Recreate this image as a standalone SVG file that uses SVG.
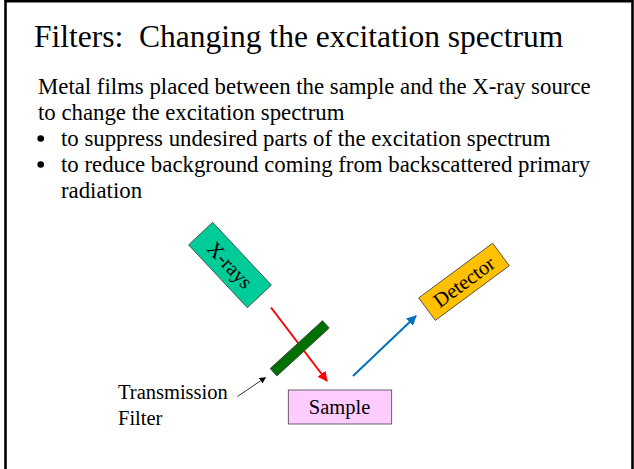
<svg xmlns="http://www.w3.org/2000/svg" width="634" height="469" viewBox="0 0 634 469">
  <style>
    .serif { font-family: "Liberation Serif", "Times New Roman", serif; fill: #000; }
    .title { font-size: 31.5px; white-space: pre; }
    .body { font-size: 22.8px; }
    .label { font-size: 20.5px; }
    .box { stroke: #404040; stroke-width: 0.8; }
  </style>
  <defs>
    <marker id="headRed" viewBox="0 0 10 10" refX="9" refY="5" markerWidth="5" markerHeight="5" orient="auto" markerUnits="strokeWidth">
      <path d="M0,0 L10,5 L0,10 z" fill="#FF0000"/>
    </marker>
    <marker id="headBlue" viewBox="0 0 10 10" refX="9" refY="5" markerWidth="5" markerHeight="5" orient="auto" markerUnits="strokeWidth">
      <path d="M0,0 L10,5 L0,10 z" fill="#0070C0"/>
    </marker>
    <marker id="headBlack" viewBox="0 0 10 10" refX="9" refY="5" markerWidth="8" markerHeight="8" orient="auto" markerUnits="strokeWidth">
      <path d="M0,0 L10,5 L0,10 z" fill="#000"/>
    </marker>
  </defs>

  <rect width="634" height="469" fill="#fff"/>
  <!-- slide frame -->
  <path d="M5.5,469 V1.2 H632.5 V469" fill="none" stroke="#000" stroke-width="2.6"/>

  <!-- heading and text -->
  <text class="serif title" x="34" y="46.7" xml:space="preserve">Filters:  Changing the excitation spectrum</text>
  <text class="serif body" x="38" y="94">Metal films placed between the sample and the X-ray source</text>
  <text class="serif body" x="38" y="120">to change the excitation spectrum</text>
  <circle cx="40.7" cy="138.5" r="3.3" fill="#000"/>
  <text class="serif body" x="61" y="146">to suppress undesired parts of the excitation spectrum</text>
  <circle cx="40.7" cy="164.5" r="3.3" fill="#000"/>
  <text class="serif body" x="61" y="172">to reduce background coming from backscattered primary</text>
  <text class="serif body" x="61" y="198">radiation</text>

  <!-- beam paths -->
  <g id="connectors">
    <line x1="271" y1="307.5" x2="327" y2="381" stroke="#FF0000" stroke-width="2" marker-end="url(#headRed)"/>
    <line x1="353" y1="376" x2="416" y2="316" stroke="#0070C0" stroke-width="2" marker-end="url(#headBlue)"/>
    <line x1="237.5" y1="396.5" x2="265.5" y2="377.5" stroke="#000" stroke-width="0.8" marker-end="url(#headBlack)"/>
  </g>

  <g id="xrays">
    <g transform="translate(230,265) rotate(46.9)">
      <rect class="box" x="-43" y="-16.5" width="86" height="33" fill="#00CC99"/>
      <text class="serif label" x="0" y="7" text-anchor="middle">X-rays</text>
    </g>
  </g>

  <g id="filter">
    <g transform="translate(299.7,348.3) rotate(-42.5)">
      <rect class="box" x="-35.5" y="-5" width="71" height="10" fill="#007000"/>
    </g>
  </g>

  <g id="detector">
    <g transform="translate(464,281.8) rotate(-36.5)">
      <rect class="box" x="-46" y="-14" width="92" height="28" fill="#FFC000"/>
      <text class="serif label" x="0" y="7" text-anchor="middle">Detector</text>
    </g>
  </g>

  <g id="sample">
    <rect class="box" x="288.3" y="390" width="103.4" height="34" fill="#FFCCFF"/>
    <text class="serif label" x="339.5" y="414" text-anchor="middle">Sample</text>
  </g>

  <g id="filter-label">
    <text class="serif label" x="118" y="399.3">Transmission</text>
    <text class="serif label" x="118" y="425">Filter</text>
  </g>
</svg>
